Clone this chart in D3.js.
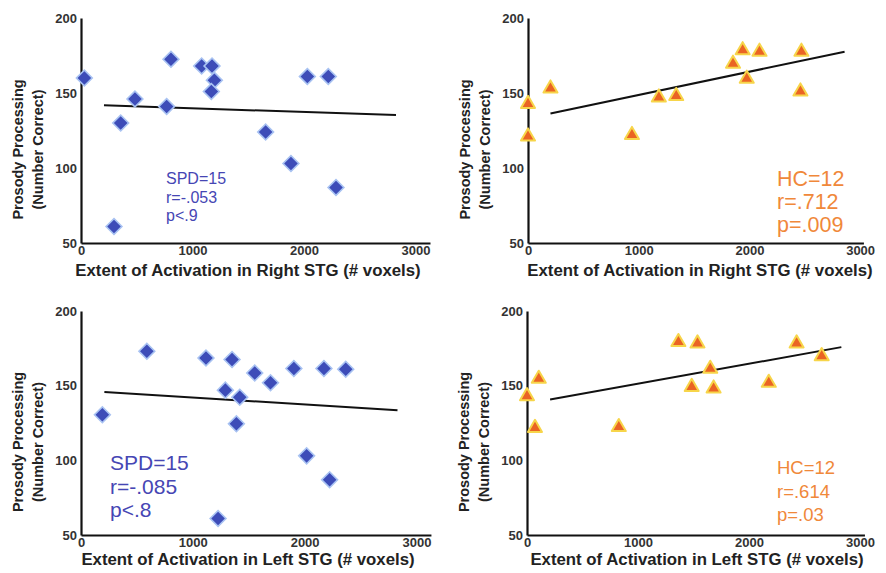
<!DOCTYPE html>
<html>
<head>
<meta charset="utf-8">
<script src="https://cdn.jsdelivr.net/npm/d3@7"></script>
<style>
  html, body { margin: 0; padding: 0; background: #fff; }
  svg { display: block; }
  text { font-family: "Liberation Sans", Arial, sans-serif; }
</style>
</head>
<body>
<svg id="chart" width="886" height="573"></svg>
<script>
// ---------- DATA ----------
const xTicks = [0, 1000, 2000, 3000];
const yTicks = [50, 100, 150, 200];
const yTitle1 = "Prosody Processing";
const yTitle2 = "(Number Correct)";
const xTitleRight = "Extent of Activation in Right STG (# voxels)";
const xTitleLeft = "Extent of Activation in Left STG (# voxels)";

// SPD, right STG
const spdRightX = [30, 484, 356, 296, 768, 807, 1082, 1175, 1196, 1169, 1656, 1883, 2030, 2218, 2287];
const spdRightY = [160, 146, 130, 61, 141, 172.5, 168, 168, 158.5, 151, 124, 103, 161, 161, 87];
const spdRightFitX = [206, 2825];
const spdRightFitY = [141.8, 135.3];
const spdRightStats = ["SPD=15", "r=-.053", "p<.9"];

// HC, right STG
const hcRightX = [0, 0, 203, 939, 1182, 1339, 1852, 1939, 1976, 2091, 2461, 2470];
const hcRightY = [142.7, 121, 153, 122, 147, 148, 169.5, 178.5, 159.5, 177.5, 151, 177.5];
const hcRightFitX = [203, 2860];
const hcRightFitY = [136.4, 177.5];
const hcRightStats = ["HC=12", "r=.712", "p=.009"];

// SPD, left STG
const spdLeftX = [191, 589, 1118, 1351, 1291, 1420, 1390, 1554, 1695, 1904, 2173, 2368, 2018, 2224, 1226];
const spdLeftY = [130.5, 173, 168.5, 167.5, 147, 142.3, 124.5, 158.5, 152, 161.5, 161.5, 161, 103, 87, 61];
const spdLeftFitX = [209, 2831];
const spdLeftFitY = [145.8, 133.5];
const spdLeftStats = ["SPD=15", "r=-.085", "p<.8"];

// HC, left STG
const hcLeftX = [0, 72, 106, 827, 1364, 1536, 1484, 1651, 1681, 2178, 2429, 2655];
const hcLeftY = [143, 121.7, 154.6, 122.3, 179.2, 178.3, 149.2, 161.3, 148.1, 151.9, 178.3, 169.8];
const hcLeftFitX = [208, 2832];
const hcLeftFitY = [140.7, 175.8];
const hcLeftStats = ["HC=12", "r=.614", "p=.03"];

// ---------- DRAW ----------
const svg = d3.select("#chart");
const BLUE = "#4646b4";
const ORANGE = "#f0883a";

function panel(cfg) {
  const g = svg.append("g");
  const x = d3.scaleLinear().domain([0, cfg.xMax]).range([cfg.x0, cfg.x0 + cfg.pxPer1000 * cfg.xMax / 1000]);
  const y = d3.scaleLinear().domain([50, 200]).range([cfg.yBottom, cfg.yTop]);

  // y axis
  const ya = g.append("g").attr("transform", `translate(${cfg.x0},0)`)
    .call(d3.axisLeft(y).tickValues(yTicks).tickSize(0).tickPadding(4).tickFormat(d3.format("d")));
  ya.select(".domain").attr("stroke", "#111").attr("stroke-width", 2.2);
  ya.selectAll("text").attr("font-size", 13).attr("font-weight", "bold").attr("fill", "#333")
    .attr("font-family", "Liberation Sans, Arial, sans-serif");

  // x axis
  const xa = g.append("g").attr("transform", `translate(0,${cfg.yBottom})`)
    .call(d3.axisBottom(x).tickValues(xTicks).tickSize(0).tickPadding(3).tickFormat(d3.format("d")));
  xa.select(".domain").attr("stroke", "#111").attr("stroke-width", 2.2);
  xa.selectAll("text").attr("font-size", 13).attr("font-weight", "bold").attr("fill", "#333")
    .attr("font-family", "Liberation Sans, Arial, sans-serif");

  // titles
  g.append("text")
    .attr("x", cfg.xTitleX).attr("y", cfg.yBottom + cfg.xTitleOff)
    .attr("text-anchor", "middle").attr("font-size", 16.8).attr("font-weight", "bold").attr("fill", "#222")
    .text(cfg.xTitle);
  const cy = (cfg.yTop + cfg.yBottom) / 2 + 19;
  g.append("text")
    .attr("transform", `translate(${cfg.x0 - 58},${cy}) rotate(-90)`)
    .attr("text-anchor", "middle").attr("font-size", 14.5).attr("font-weight", "bold").attr("fill", "#222")
    .text(yTitle1);
  g.append("text")
    .attr("transform", `translate(${cfg.x0 - 38},${cy}) rotate(-90)`)
    .attr("text-anchor", "middle").attr("font-size", 14.5).attr("font-weight", "bold").attr("fill", "#222")
    .text(yTitle2);

  // fit line
  g.append("line")
    .attr("x1", x(cfg.fitX[0])).attr("y1", y(cfg.fitY[0]))
    .attr("x2", x(cfg.fitX[1])).attr("y2", y(cfg.fitY[1]))
    .attr("stroke", "#111").attr("stroke-width", 2);

  // points
  const pts = cfg.xs.map((v, i) => [v, cfg.ys[i]]);
  if (cfg.shape === "diamond") {
    const sym = d3.symbol().type(d3.symbolSquare).size(125);
    g.append("g").selectAll("path").data(pts).join("path")
      .attr("d", sym)
      .attr("transform", d => `translate(${x(d[0])},${y(d[1])}) rotate(45)`)
      .attr("fill", "#3d4cb8").attr("stroke", "#a9c3f2").attr("stroke-width", 1.6);
  } else {
    const sym = d3.symbol().type(d3.symbolTriangle).size(85);
    g.append("g").selectAll("path").data(pts).join("path")
      .attr("d", sym)
      .attr("transform", d => `translate(${x(d[0])},${y(d[1])})`)
      .attr("fill", "#ea6424").attr("stroke", "#f7d54a").attr("stroke-width", 2).attr("stroke-linejoin", "round");
  }

  // stats
  const t = g.append("text").attr("fill", cfg.statColor).attr("font-size", cfg.statSize);
  cfg.stats.forEach((s, i) => {
    t.append("tspan").attr("x", cfg.statX).attr("y", cfg.statY + i * cfg.statGap).text(s);
  });
}

panel({ x0: 81, pxPer1000: 111.5, xMax: 3130, yTop: 18, yBottom: 243, xTitleX: 248, xTitleOff: 33,
  xs: spdRightX, ys: spdRightY, fitX: spdRightFitX, fitY: spdRightFitY, shape: "diamond",
  stats: spdRightStats, statColor: BLUE, statSize: 16, statX: 166, statY: 184, statGap: 18.5,
  xTitle: xTitleRight });
panel({ x0: 528, pxPer1000: 110.7, xMax: 3030, yTop: 18, yBottom: 243, xTitleX: 700, xTitleOff: 33,
  xs: hcRightX, ys: hcRightY, fitX: hcRightFitX, fitY: hcRightFitY, shape: "triangle",
  stats: hcRightStats, statColor: ORANGE, statSize: 21.5, statX: 777, statY: 186, statGap: 23,
  xTitle: xTitleRight });
panel({ x0: 81, pxPer1000: 111.8, xMax: 3130, yTop: 311, yBottom: 535, xTitleX: 248, xTitleOff: 30,
  xs: spdLeftX, ys: spdLeftY, fitX: spdLeftFitX, fitY: spdLeftFitY, shape: "diamond",
  stats: spdLeftStats, statColor: BLUE, statSize: 21, statX: 110, statY: 470, statGap: 23.5,
  xTitle: xTitleLeft });
panel({ x0: 527, pxPer1000: 111, xMax: 3040, yTop: 311, yBottom: 535, xTitleX: 697, xTitleOff: 30,
  xs: hcLeftX, ys: hcLeftY, fitX: hcLeftFitX, fitY: hcLeftFitY, shape: "triangle",
  stats: hcLeftStats, statColor: ORANGE, statSize: 18.5, statX: 777, statY: 474, statGap: 23.5,
  xTitle: xTitleLeft });
</script>
</body>
</html>
